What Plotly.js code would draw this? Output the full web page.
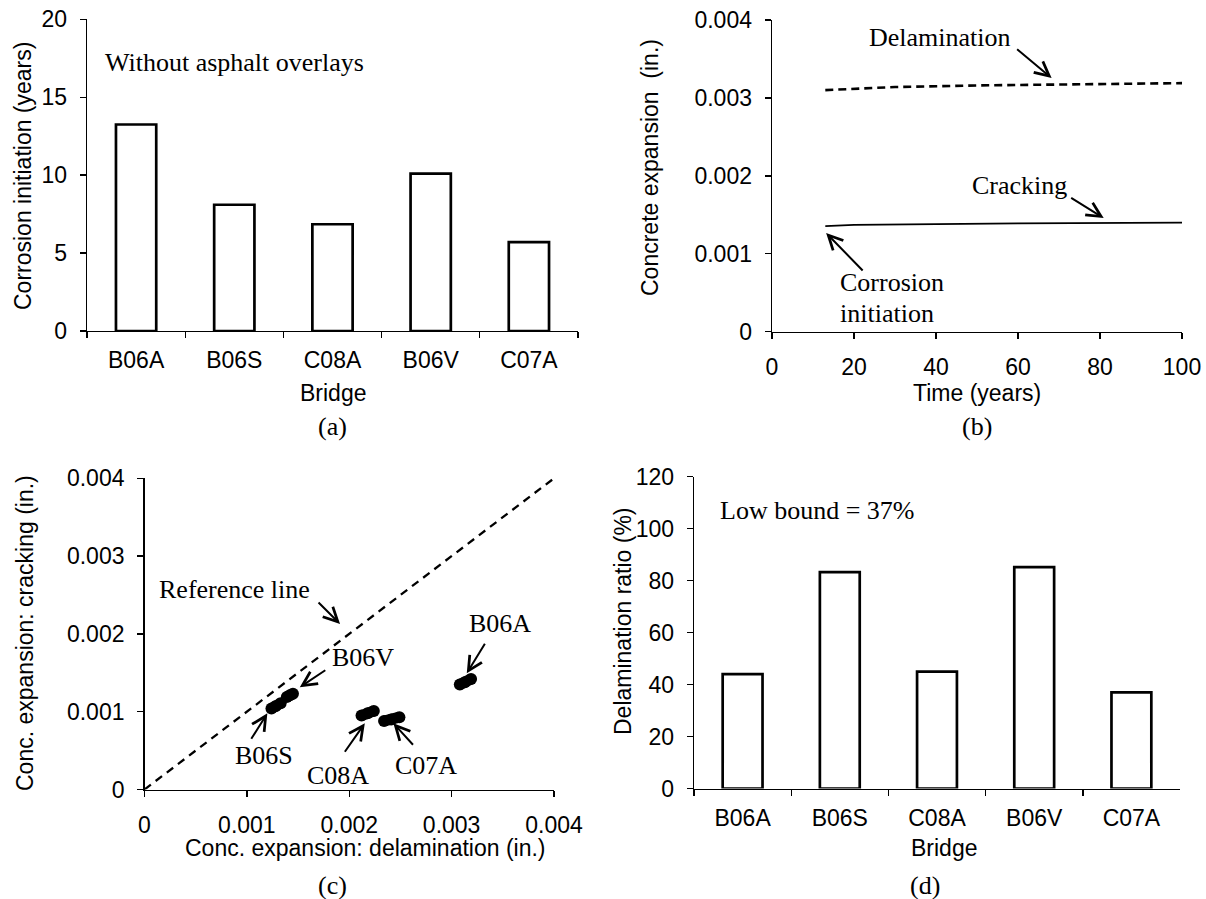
<!DOCTYPE html>
<html>
<head>
<meta charset="utf-8">
<script src="https://cdn.plot.ly/plotly-3.0.1.min.js"></script>
<style>html,body{margin:0;padding:0;background:#fff;}#chart{width:1206px;height:899px;}</style>
</head>
<body>
<div id="chart"></div>
<script>
// ---- data ----
const bridges = ['B06A', 'B06S', 'C08A', 'B06V', 'C07A'];
const corrosionInitiation = [13.25, 8.1, 6.85, 10.1, 5.7];          // years
const delaminationRatio = [44, 83.3, 45, 85.2, 37];                 // %

const timeDelam = [13, 20, 30, 50, 70, 100];
const expDelam = [0.00310, 0.00312, 0.00314, 0.00316, 0.00317, 0.00319];
const timeCrack = [13, 20, 40, 60, 100];
const expCrack = [0.001355, 0.00137, 0.00138, 0.00139, 0.00140];

const refLineX = [0, 0.004];
const refLineY = [0, 0.004];

const delamB06A = [0.00308, 0.00313, 0.00319], crackB06A = [0.00135, 0.00138, 0.00142];
const delamB06S = [0.00124, 0.00128, 0.00133], crackB06S = [0.00104, 0.00107, 0.00111];
const delamB06V = [0.00139, 0.00142, 0.00145], crackB06V = [0.00119, 0.00121, 0.00123];
const delamC08A = [0.00212, 0.00218, 0.00224], crackC08A = [0.00095, 0.00098, 0.00101];
const delamC07A = [0.00234, 0.00241, 0.00249], crackC07A = [0.00088, 0.00090, 0.00093];

const expTickVals = [0, 0.001, 0.002, 0.003, 0.004];
const expTickText = ['0', '0.001', '0.002', '0.003', '0.004'];

// ---- layout helpers ----
const W = 1206, H = 899;
const px = v => v / W;
const py = v => 1 - v / H;
const SANS = 'Liberation Sans, Arial, sans-serif';
const SERIF = 'Liberation Serif, Times New Roman, serif';
const tickFont = {family: SANS, size: 23, color: '#000'};
const titleFont = {family: SANS, size: 23, color: '#000'};

function axis(extra) {
  return Object.assign({
    showline: true, linecolor: '#000', linewidth: 1.4,
    ticks: 'outside', ticklen: 6, tickwidth: 1.4, tickcolor: '#000',
    showgrid: false, zeroline: false, tickfont: tickFont,
    ticklabelstandoff: 8, fixedrange: true
  }, extra);
}

const barStyle = {color: '#fff', line: {color: '#000', width: 2.7}};

const traces = [
  {type: 'bar', x: bridges, y: corrosionInitiation, marker: barStyle, xaxis: 'x', yaxis: 'y', width: 0.41},
  {type: 'scatter', mode: 'lines', x: timeDelam, y: expDelam, line: {color: '#000', width: 2.6, dash: '8px,5px'}, xaxis: 'x2', yaxis: 'y2'},
  {type: 'scatter', mode: 'lines', x: timeCrack, y: expCrack, line: {color: '#000', width: 1.8}, xaxis: 'x2', yaxis: 'y2'},
  {type: 'scatter', mode: 'lines', x: refLineX, y: refLineY, line: {color: '#000', width: 2.3, dash: '8px,6px'}, xaxis: 'x3', yaxis: 'y3'},
];
[[delamB06A, crackB06A], [delamB06S, crackB06S], [delamB06V, crackB06V], [delamC08A, crackC08A], [delamC07A, crackC07A]].forEach(([dx, cy]) => {
  traces.push({type: 'scatter', mode: 'lines+markers', x: dx, y: cy,
    line: {color: '#000', width: 11}, marker: {color: '#000', size: 12}, xaxis: 'x3', yaxis: 'y3'});
});
traces.push({type: 'bar', x: bridges, y: delaminationRatio, marker: barStyle, xaxis: 'x4', yaxis: 'y4', width: 0.41});

function txt(text, x, y, opts) {
  return Object.assign({text, x: px(x), y: py(y), xref: 'paper', yref: 'paper', showarrow: false,
    font: {family: SERIF, size: 26, color: '#000'}, xanchor: 'center', yanchor: 'middle'}, opts || {});
}
function arrow(xr, yr, x, y, ax, ay) {
  return {text: '', x, y, xref: xr, yref: yr, ax, ay, axref: 'pixel', ayref: 'pixel', showarrow: true,
    arrowhead: 5, arrowsize: 1.4, arrowwidth: 2, arrowcolor: '#000', standoff: 0};
}
function ytitle(text, x, y) {
  return {text, x: px(x), y: py(y), xref: 'paper', yref: 'paper', showarrow: false, textangle: -90,
    font: titleFont, xanchor: 'center', yanchor: 'middle'};
}
function xtitle(text, x, y) {
  return {text, x: px(x), y: py(y), xref: 'paper', yref: 'paper', showarrow: false,
    font: titleFont, xanchor: 'center', yanchor: 'middle'};
}

const annotations = [
  // axis titles
  ytitle('Corrosion initiation (years)', 23, 176),
  xtitle('Bridge', 333, 393),
  ytitle('Concrete expansion  (in.)', 650, 168),
  xtitle('Time (years)', 977, 393),
  ytitle('Conc. expansion: cracking (in.)', 25, 633),
  xtitle('Conc. expansion: delamination (in.)', 365, 848),
  ytitle('Delamination ratio (%)', 623, 621),
  xtitle('Bridge', 944, 848),
  // panel labels
  txt('(a)', 332, 426), txt('(b)', 977, 426), txt('(c)', 332, 885), txt('(d)', 925, 885),
  // panel texts
  txt('Without asphalt overlays', 103, 63, {xanchor: 'left'}),
  txt('Low bound = 37%', 718, 510, {xanchor: 'left'}),
  txt('Delamination', 940, 37),
  txt('Cracking', 1019, 185),
  txt('Corrosion', 838, 283, {xanchor: 'left'}),
  txt('initiation', 838, 313, {xanchor: 'left'}),
  txt('Reference line', 234, 589),
  txt('B06V', 363, 657), txt('B06S', 264, 755), txt('C08A', 338, 775),
  txt('C07A', 426, 765), txt('B06A', 500, 623),
  // arrows
  arrow('x2', 'y2', 68.2, 0.003256, -36, -30),
  arrow('x2', 'y2', 80.9, 0.001459, -34, -21),
  arrow('x2', 'y2', 13.2, 0.001267, 38, 39),
  arrow('x3', 'y3', 0.00191, 0.002127, -23, -23),
  arrow('x3', 'y3', 0.001517, 0.001314, 27, -18),
  arrow('x3', 'y3', 0.0012, 0.000979, -17, 27),
  arrow('x3', 'y3', 0.002152, 0.000851, -21, 30),
  arrow('x3', 'y3', 0.002431, 0.000851, 21, 23),
  arrow('x3', 'y3', 0.003148, 0.001493, 19, -31),
];

const layout = {
  width: W, height: H, margin: {l: 0, r: 0, t: 0, b: 0},
  paper_bgcolor: '#fff', plot_bgcolor: '#fff', showlegend: false,
  bargap: 0.59,
  xaxis: axis({domain: [px(87), px(578)], anchor: 'y', type: 'category', range: [-0.5, 4.5], tickson: 'boundaries'}),
  yaxis: axis({domain: [py(331), py(19.3)], anchor: 'x', range: [0, 20], dtick: 5, tick0: 0}),
  xaxis2: axis({domain: [px(772), px(1182)], anchor: 'y2', range: [0, 100], dtick: 20, tick0: 0}),
  yaxis2: axis({domain: [py(331.7), py(20)], anchor: 'x2', range: [0, 0.004], tickvals: expTickVals, ticktext: expTickText}),
  xaxis3: axis({domain: [px(144.5), px(554)], anchor: 'y3', range: [0, 0.004], tickvals: expTickVals, ticktext: expTickText}),
  yaxis3: axis({domain: [py(789.5), py(478.3)], anchor: 'x3', range: [0, 0.004], tickvals: expTickVals, ticktext: expTickText}),
  xaxis4: axis({domain: [px(694), px(1180)], anchor: 'y4', type: 'category', range: [-0.5, 4.5], tickson: 'boundaries'}),
  yaxis4: axis({domain: [py(788.5), py(476.7)], anchor: 'x4', range: [0, 120], dtick: 20, tick0: 0}),
  annotations
};

Plotly.newPlot('chart', traces, layout, {staticPlot: true, displayModeBar: false});
</script>
</body>
</html>
